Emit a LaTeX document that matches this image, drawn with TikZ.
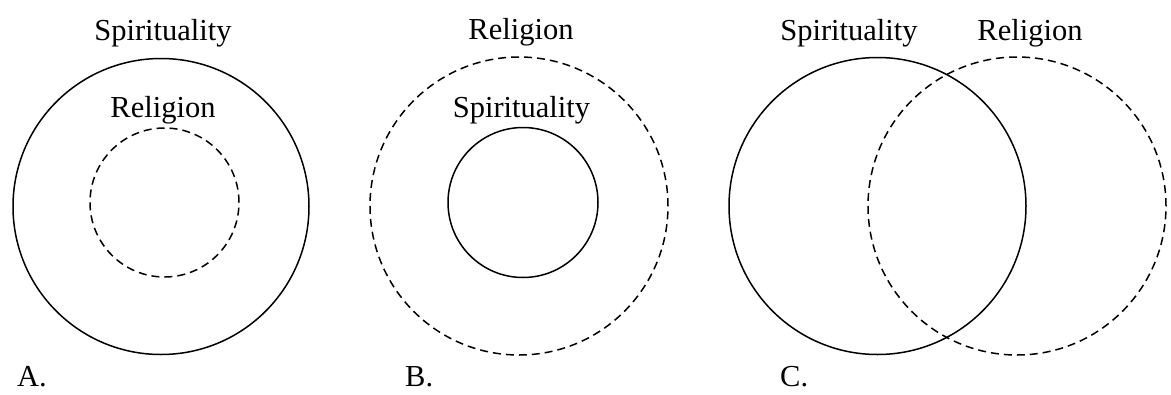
\documentclass[tikz,border=0pt]{standalone}
\usepackage{fontspec}
\setmainfont{Liberation Serif}
\usepackage{tikz}
\usetikzlibrary{positioning}

\begin{document}
\begin{tikzpicture}[
        x=1pt, y=-1pt,
        font=\fontsize{30.5}{36}\selectfont,
        % circle styles
        solidring/.style={draw, circle, line width=1.5pt, inner sep=0pt},
        dashring/.style={draw, circle, line width=1.5pt, inner sep=0pt, dash pattern=on 8pt off 5pt},
        % label styles
        term/.style={anchor=base, inner sep=0pt},
        panel/.style={anchor=base west, inner sep=0pt}
    ]
    \useasboundingbox (0,0) rectangle (1171,394);

    % A. religion inside spirituality
    \node[solidring, minimum size=296pt] (spiA) at (161,206.5) {};
    \node[dashring, minimum size=149pt] (relA) at (164.5,202.5) {};
    \node[term] (spiAlabel) at (163,40) {Spirituality};
    \node[term] (relAlabel) at (163,117) {Religion};
    \node[panel] (tagA) at (17,386) {A.};

    % B. spirituality inside religion
    \node[dashring, minimum size=298pt] (relB) at (519,206) {};
    \node[solidring, minimum size=150pt] (spiB) at (523,202.5) {};
    \node[term] (relBlabel) at (521,39) {Religion};
    \node[term] (spiBlabel) at (521.5,117) {Spirituality};
    \node[panel] (tagB) at (405,386) {B.};

    % C. overlapping
    \node[solidring, minimum size=297pt] (spiC) at (877.5,206) {};
    \node[dashring, minimum size=298pt] (relC) at (1017,206) {};
    \node[term] (spiClabel) at (849,40) {Spirituality};
    \node[term] (relClabel) at (1030,40) {Religion};
    \node[panel] (tagC) at (780,386) {C.};

\end{tikzpicture}
\end{document}
